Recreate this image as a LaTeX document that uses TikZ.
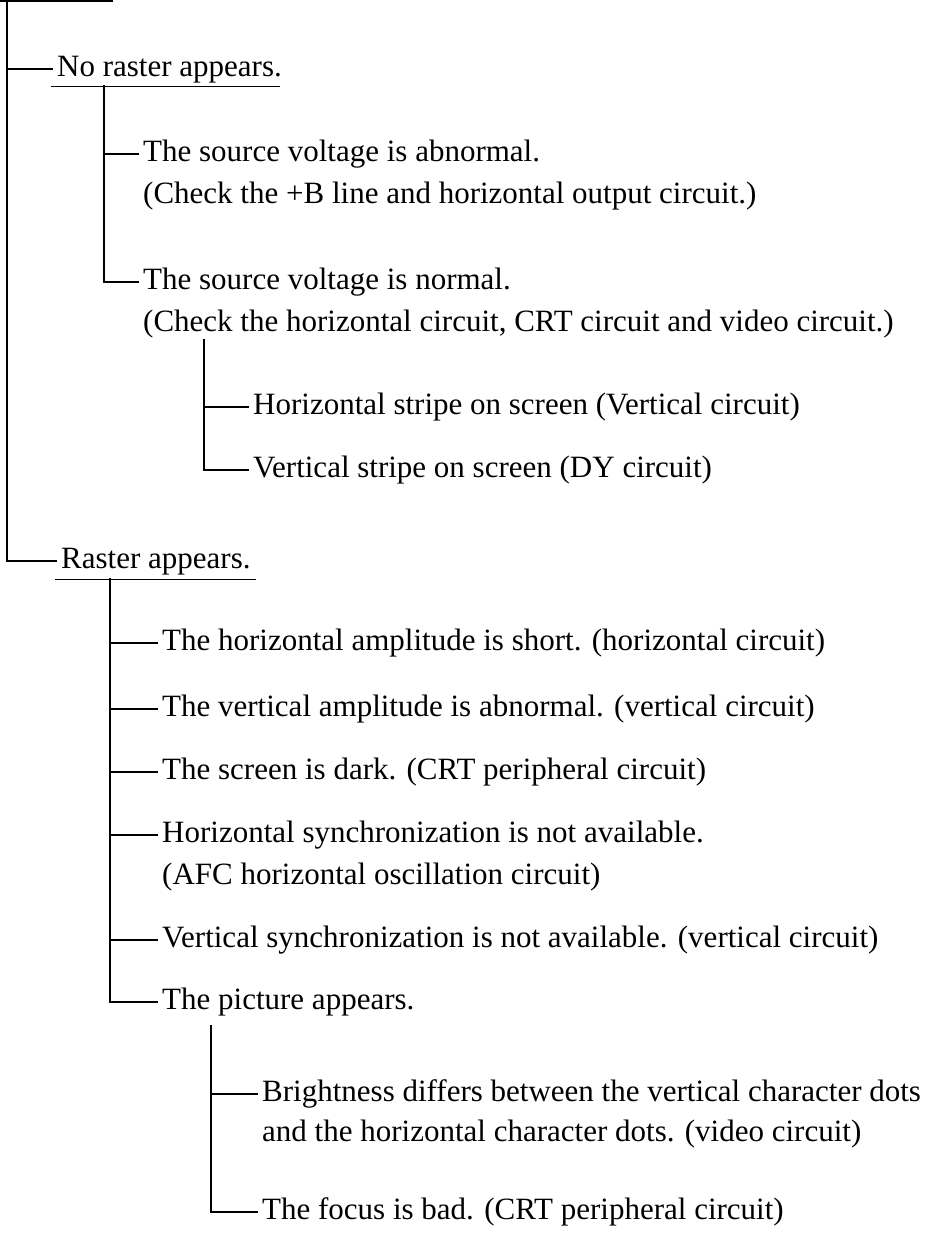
\documentclass[tikz,border=0pt]{standalone}
\usepackage{fontspec}
\setmainfont{Liberation Serif}
\usetikzlibrary{calc}
\begin{document}
\begin{tikzpicture}[x=1pt,y=-1pt,
  every node/.style={font=\fontsize{31}{36}\selectfont},
  item/.style={anchor=west, inner xsep=5pt, inner ysep=0pt, text height=20pt, text depth=6pt},
  tree/.style={line width=1.4pt, line cap=rect}]
\useasboundingbox (0,0) rectangle (925,1237);

% level 1
\node[item] (noraster) at (52,69) {No raster appears.};
\node[item] (raster) at (56,561) {Raster appears.};

% level 2 under "No raster appears."
\node[item] (ab1) at (138,154) {The source voltage is abnormal.};
\node[item] (ab2) at (138,196) {(Check the +B line and horizontal output circuit.)};
\node[item] (no1) at (138,282) {The source voltage is normal.};
\node[item] (no2) at (138,324) {(Check the horizontal circuit, CRT circuit and video circuit.)};

% level 3 under "The source voltage is normal."
\node[item] (hs) at (248,407) {Horizontal stripe on screen (Vertical circuit)};
\node[item] (vs) at (248,470) {Vertical stripe on screen (DY circuit)};

% level 2 under "Raster appears."
\node[item] (ha) at (157,643) {The horizontal amplitude is short. (horizontal circuit)};
\node[item] (va) at (157,709) {The vertical amplitude is abnormal. (vertical circuit)};
\node[item] (sd) at (157,772) {The screen is dark. (CRT peripheral circuit)};
\node[item] (hsy1) at (157,835) {Horizontal synchronization is not available.};
\node[item] (hsy2) at (157,877) {(AFC horizontal oscillation circuit)};
\node[item] (vsy) at (157,940) {Vertical synchronization is not available. (vertical circuit)};
\node[item] (pic) at (157,1002) {The picture appears.};

% level 3 under "The picture appears."
\node[item] (br1) at (257,1094) {Brightness differs between the vertical character dots};
\node[item] (br2) at (257,1134) {and the horizontal character dots. (video circuit)};
\node[item] (fo) at (257,1212) {The focus is bad. (CRT peripheral circuit)};

% top rule (cut off)
\coordinate (tl) at (0,1);
\coordinate (tr) at (112,1);
\draw[tree] (tl) -- (tr);

% main trunk
\coordinate (t0) at (7,0);
\draw[tree] (t0) |- (raster.west);
\draw[tree] (t0 |- noraster.west) -- (noraster.west);

% underlines
\draw[tree] ($(noraster.south west)+(0,4)$) -- ($(noraster.south east)+(-8,4)$);
\draw[tree] ($(raster.south west)+(0,5)$) -- ($(raster.south east)+(0,5)$);

% trunk under "No raster appears."
\coordinate (u1) at (104,86);
\draw[tree] (u1) |- (no1.west);
\draw[tree] (u1 |- ab1.west) -- (ab1.west);

% trunk under "The source voltage is normal."
\coordinate (c3) at (204,340);
\draw[tree] (c3) |- (vs.west);
\draw[tree] (c3 |- hs.west) -- (hs.west);

% trunk under "Raster appears."
\coordinate (u2) at (110,579);
\draw[tree] (u2) |- (pic.west);
\foreach \n in {ha,va,sd,hsy1,vsy}{
  \draw[tree] (u2 |- \n.west) -- (\n.west);
}

% trunk under "The picture appears."
\coordinate (c3b) at (211,1026);
\draw[tree] (c3b) |- (fo.west);
\draw[tree] (c3b |- br1.west) -- (br1.west);
\end{tikzpicture}
\end{document}
